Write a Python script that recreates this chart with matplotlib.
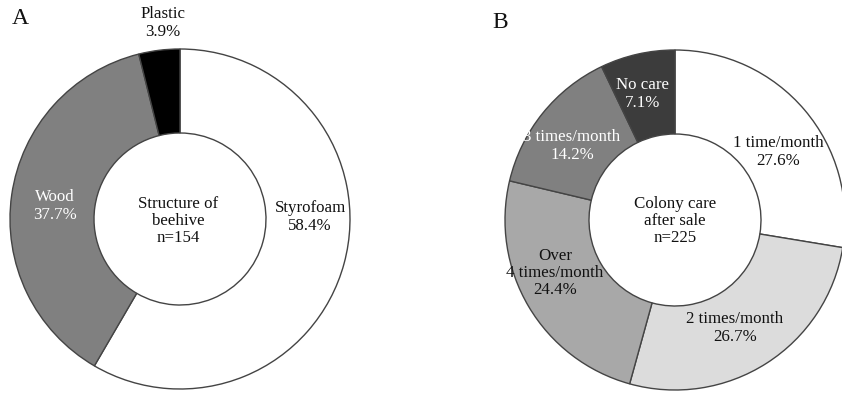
import matplotlib.pyplot as plt

plt.rcParams['font.family'] = ['Liberation Serif', 'DejaVu Serif']

# A: structure of beehive
hive_labels = ['Styrofoam', 'Wood', 'Plastic']
hive_pct = [58.4, 37.7, 3.9]
hive_colors = ['#ffffff', '#808080', '#000000']

# B: colony care after sale
care_labels = ['1 time/month', '2 times/month', 'Over\n4 times/month', '3 times/month', 'No care']
care_pct = [27.6, 26.7, 24.4, 14.2, 7.1]
care_colors = ['#ffffff', '#dcdcdc', '#a8a8a8', '#808080', '#3c3c3c']

W, H = 842, 393
fig = plt.figure(figsize=(W / 100, H / 100), dpi=100)
ax = fig.add_axes([0, 0, 1, 1])
ax.set_aspect('equal')

R = 170
ring = 84
wp = dict(width=ring, edgecolor='#444444', linewidth=1.0)

ax.pie(hive_pct, colors=hive_colors, center=(180, H - 219), radius=R,
       startangle=90, counterclock=False, wedgeprops=wp, frame=True)
ax.pie(care_pct, colors=care_colors, center=(675, H - 220), radius=R,
       startangle=90, counterclock=False, wedgeprops=wp, frame=True)
ax.set_xlim(0, W)
ax.set_ylim(0, H)
ax.axis('off')

fs = 12.2
def lab(x, y, s, c='#111111'):
    ax.text(x, H - y, s, ha='center', va='center', fontsize=fs, color=c, linespacing=1.12)

# panel letters
ax.text(20, H - 19, 'A', ha='center', va='center', fontsize=17, color='#111111')
ax.text(500, H - 22, 'B', ha='center', va='center', fontsize=17, color='#111111')

# A labels
lab(163, 23, 'Plastic\n' + f'{hive_pct[2]}%')
lab(310, 217, 'Styrofoam\n' + f'{hive_pct[0]}%')
lab(55, 206, 'Wood\n' + f'{hive_pct[1]}%', c='white')
lab(178, 221, 'Structure of\nbeehive\nn=154')

# B labels
lab(643, 94, care_labels[4] + '\n' + f'{care_pct[4]}%', c='white')
lab(572, 146, care_labels[3] + '\n' + f'{care_pct[3]}%', c='white')
lab(778, 152, care_labels[0] + '\n' + f'{care_pct[0]}%')
lab(555, 273, care_labels[2] + '\n' + f'{care_pct[2]}%')
lab(735, 328, care_labels[1] + '\n' + f'{care_pct[1]}%')
lab(675, 221, 'Colony care\nafter sale\nn=225')

fig.savefig('out.png', dpi=100)
